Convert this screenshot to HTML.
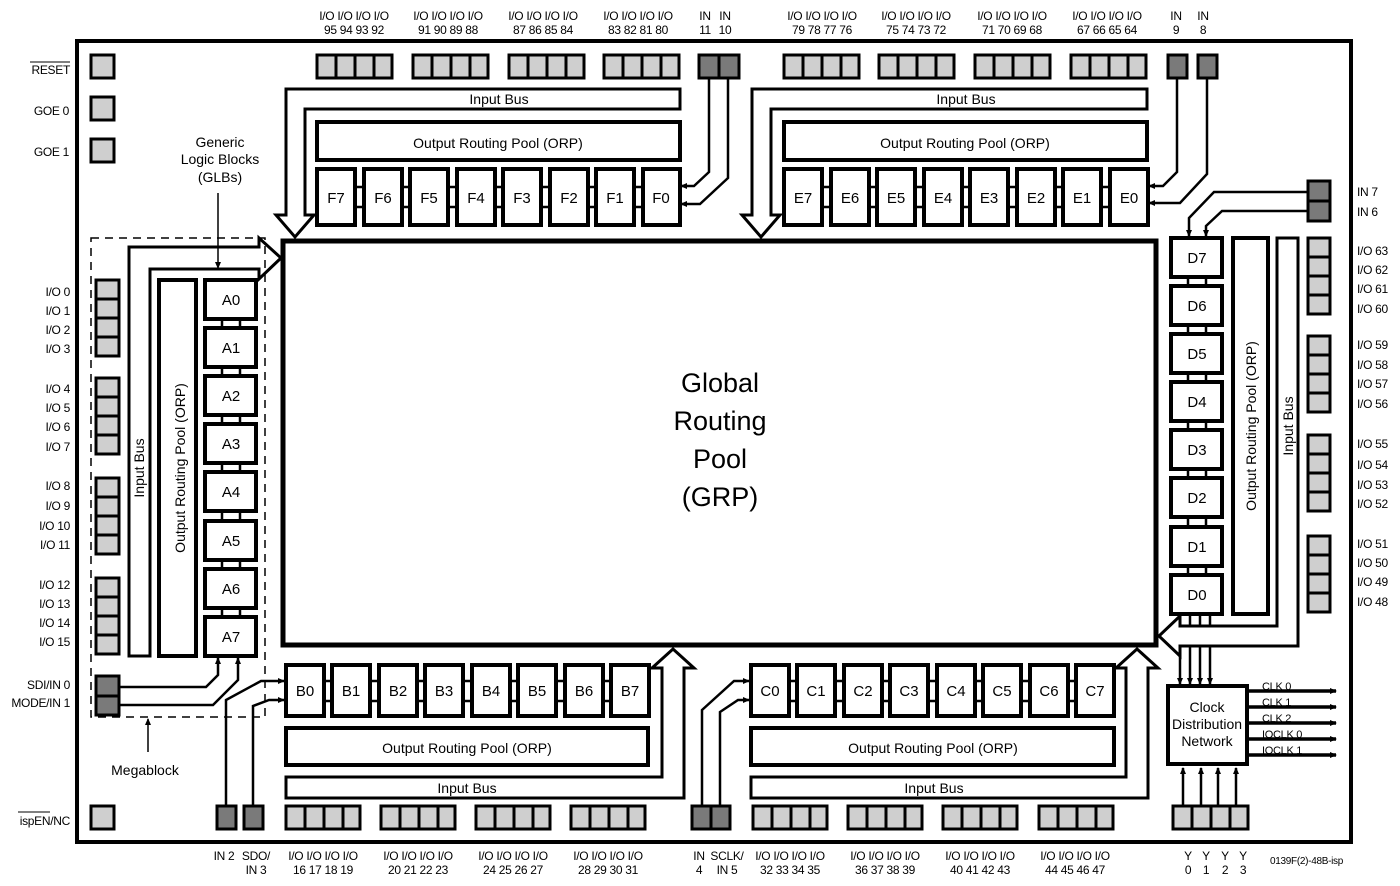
<!DOCTYPE html>
<html><head><meta charset="utf-8"><style>
html,body{margin:0;padding:0;background:#fff}
svg{display:block}
text{font-family:"Liberation Sans",sans-serif;fill:#000}
.s{font-size:12px;letter-spacing:-0.3px}
.m{font-size:14px}
.b{font-size:15px}
</style></head><body>
<svg width="1400" height="886" viewBox="0 0 1400 886" xmlns="http://www.w3.org/2000/svg">
<defs>
<marker id="ar" markerWidth="8" markerHeight="8" refX="6" refY="3" orient="auto" markerUnits="userSpaceOnUse"><path d="M0,0 L7,3 L0,6 z" fill="#000"/></marker>
</defs>
<g fill="none" stroke="#000">
<rect x="77" y="41" width="1274" height="801" stroke-width="4"/>
<rect x="283" y="241" width="873" height="404" stroke-width="5"/>
</g>
<g text-anchor="middle">
<text x="720" y="392" style="font-size:27px">Global</text>
<text x="720" y="430" style="font-size:27px">Routing</text>
<text x="720" y="468" style="font-size:27px">Pool</text>
<text x="720" y="506" style="font-size:27px">(GRP)</text>
</g>

<g fill="#cfcfcf" stroke="#000" stroke-width="3">
<rect x="317" y="55" width="19" height="23"/><rect x="336" y="55" width="19" height="23"/><rect x="355" y="55" width="19" height="23"/><rect x="374" y="55" width="18" height="23"/>
<rect x="413" y="55" width="19" height="23"/><rect x="432" y="55" width="19" height="23"/><rect x="451" y="55" width="19" height="23"/><rect x="470" y="55" width="18" height="23"/>
<rect x="509" y="55" width="19" height="23"/><rect x="528" y="55" width="19" height="23"/><rect x="547" y="55" width="19" height="23"/><rect x="566" y="55" width="18" height="23"/>
<rect x="604" y="55" width="19" height="23"/><rect x="623" y="55" width="19" height="23"/><rect x="642" y="55" width="19" height="23"/><rect x="661" y="55" width="18" height="23"/>
<rect x="784" y="55" width="19" height="23"/><rect x="803" y="55" width="19" height="23"/><rect x="822" y="55" width="19" height="23"/><rect x="841" y="55" width="18" height="23"/>
<rect x="879" y="55" width="19" height="23"/><rect x="898" y="55" width="19" height="23"/><rect x="917" y="55" width="19" height="23"/><rect x="936" y="55" width="18" height="23"/>
<rect x="975" y="55" width="19" height="23"/><rect x="994" y="55" width="19" height="23"/><rect x="1013" y="55" width="19" height="23"/><rect x="1032" y="55" width="18" height="23"/>
<rect x="1071" y="55" width="19" height="23"/><rect x="1090" y="55" width="19" height="23"/><rect x="1109" y="55" width="19" height="23"/><rect x="1128" y="55" width="18" height="23"/>
<rect x="286" y="806" width="19" height="23"/><rect x="305" y="806" width="19" height="23"/><rect x="324" y="806" width="19" height="23"/><rect x="343" y="806" width="17" height="23"/>
<rect x="381" y="806" width="19" height="23"/><rect x="400" y="806" width="19" height="23"/><rect x="419" y="806" width="19" height="23"/><rect x="438" y="806" width="17" height="23"/>
<rect x="476" y="806" width="19" height="23"/><rect x="495" y="806" width="19" height="23"/><rect x="514" y="806" width="19" height="23"/><rect x="533" y="806" width="17" height="23"/>
<rect x="571" y="806" width="19" height="23"/><rect x="590" y="806" width="19" height="23"/><rect x="609" y="806" width="19" height="23"/><rect x="628" y="806" width="17" height="23"/>
<rect x="753" y="806" width="19" height="23"/><rect x="772" y="806" width="19" height="23"/><rect x="791" y="806" width="19" height="23"/><rect x="810" y="806" width="17" height="23"/>
<rect x="848" y="806" width="19" height="23"/><rect x="867" y="806" width="19" height="23"/><rect x="886" y="806" width="19" height="23"/><rect x="905" y="806" width="17" height="23"/>
<rect x="943" y="806" width="19" height="23"/><rect x="962" y="806" width="19" height="23"/><rect x="981" y="806" width="19" height="23"/><rect x="1000" y="806" width="17" height="23"/>
<rect x="1039" y="806" width="19" height="23"/><rect x="1058" y="806" width="19" height="23"/><rect x="1077" y="806" width="19" height="23"/><rect x="1096" y="806" width="17" height="23"/>
<rect x="1173" y="806" width="19" height="23"/><rect x="1192" y="806" width="19" height="23"/><rect x="1211" y="806" width="19" height="23"/><rect x="1230" y="806" width="18" height="23"/>
<rect x="96" y="280" width="23" height="19"/><rect x="96" y="299" width="23" height="19"/><rect x="96" y="318" width="23" height="19"/><rect x="96" y="337" width="23" height="19"/>
<rect x="96" y="378" width="23" height="19"/><rect x="96" y="397" width="23" height="19"/><rect x="96" y="416" width="23" height="19"/><rect x="96" y="435" width="23" height="19"/>
<rect x="96" y="478" width="23" height="19"/><rect x="96" y="497" width="23" height="19"/><rect x="96" y="516" width="23" height="19"/><rect x="96" y="535" width="23" height="19"/>
<rect x="96" y="578" width="23" height="19"/><rect x="96" y="597" width="23" height="19"/><rect x="96" y="616" width="23" height="19"/><rect x="96" y="635" width="23" height="19"/>
<rect x="1308" y="238" width="22" height="19"/><rect x="1308" y="257" width="22" height="19"/><rect x="1308" y="276" width="22" height="19"/><rect x="1308" y="295" width="22" height="19"/>
<rect x="1308" y="336" width="22" height="19"/><rect x="1308" y="355" width="22" height="19"/><rect x="1308" y="374" width="22" height="19"/><rect x="1308" y="393" width="22" height="19"/>
<rect x="1308" y="435" width="22" height="19"/><rect x="1308" y="454" width="22" height="19"/><rect x="1308" y="473" width="22" height="19"/><rect x="1308" y="492" width="22" height="19"/>
<rect x="1308" y="536" width="22" height="19"/><rect x="1308" y="555" width="22" height="19"/><rect x="1308" y="574" width="22" height="19"/><rect x="1308" y="593" width="22" height="19"/>
<rect x="91" y="55" width="23" height="23"/><rect x="91" y="97" width="23" height="23"/><rect x="91" y="139" width="23" height="23"/>
<rect x="91" y="806" width="23" height="23"/>
</g>
<g fill="#7a7a7a" stroke="#000" stroke-width="3">
<rect x="699" y="55" width="20" height="23"/><rect x="719" y="55" width="20" height="23"/>
<rect x="1168" y="55" width="19" height="23"/><rect x="1198" y="55" width="19" height="23"/>
<rect x="1308" y="181" width="22" height="20"/><rect x="1308" y="201" width="22" height="20"/>
<rect x="96" y="676" width="23" height="20"/><rect x="96" y="696" width="23" height="19"/>
<rect x="217" y="806" width="19" height="23"/><rect x="244" y="806" width="19" height="23"/>
<rect x="692" y="806" width="19" height="23"/><rect x="711" y="806" width="19" height="23"/>
</g>

<g fill="#fff" stroke="#000" stroke-width="4">
<rect x="317" y="122" width="363" height="38"/>
<rect x="784" y="122" width="363" height="38"/>
<rect x="286" y="728" width="362" height="37"/>
<rect x="751" y="728" width="363" height="37"/>
<rect x="159" y="280" width="37" height="376"/>
<rect x="1233" y="238" width="35" height="376"/>
</g>
<g fill="none" stroke="#000" stroke-width="3">
<path d="M680,89 L286,89 L286,215 L276,215 L295,237 L314,215 L305,215 L305,109 L680,109 Z" fill="#fff"/>
<path d="M1147,89 L752,89 L752,215 L742,215 L761,237 L780,215 L771,215 L771,109 L1147,109 Z" fill="#fff"/>
<path d="M286,798 L684,798 L684,668 L694,668 L673,649 L652,668 L662,668 L662,777 L286,777 Z" fill="#fff"/>
<path d="M751,798 L1148,798 L1148,668 L1158,668 L1137,649 L1116,668 L1126,668 L1126,777 L751,777 Z" fill="#fff"/>
<path d="M129,656 L129,247 L259,247 L259,238 L281,258 L259,279 L259,269 L150,269 L150,656 Z" fill="#fff"/>
<path d="M1277,238 L1277,626 L1180,626 L1180,616 L1159,636 L1180,656 L1180,646 L1298,646 L1298,238 Z" fill="#fff"/>
<rect x="1277" y="238" width="21" height="388" fill="#fff" stroke="none"/>
<path d="M1277,238 L1277,626 M1298,238 L1298,646 M1277,238 L1298,238"/>
</g>
<rect x="91" y="238" width="174" height="479" fill="none" stroke="#000" stroke-width="1.5" stroke-dasharray="8,6"/>

<g fill="#fff" stroke="#000" stroke-width="4">
<rect x="317" y="169" width="38" height="56"/><rect x="364" y="169" width="38" height="56"/><rect x="410" y="169" width="38" height="56"/><rect x="457" y="169" width="38" height="56"/><rect x="503" y="169" width="38" height="56"/><rect x="550" y="169" width="38" height="56"/><rect x="596" y="169" width="38" height="56"/><rect x="643" y="169" width="37" height="56"/>
<rect x="784" y="169" width="38" height="56"/><rect x="831" y="169" width="38" height="56"/><rect x="877" y="169" width="38" height="56"/><rect x="924" y="169" width="38" height="56"/><rect x="970" y="169" width="38" height="56"/><rect x="1017" y="169" width="38" height="56"/><rect x="1063" y="169" width="38" height="56"/><rect x="1110" y="169" width="38" height="56"/>
<rect x="286" y="665" width="38" height="51"/><rect x="332" y="665" width="38" height="51"/><rect x="379" y="665" width="38" height="51"/><rect x="425" y="665" width="38" height="51"/><rect x="472" y="665" width="38" height="51"/><rect x="518" y="665" width="38" height="51"/><rect x="565" y="665" width="38" height="51"/><rect x="611" y="665" width="38" height="51"/>
<rect x="751" y="665" width="38" height="51"/><rect x="797" y="665" width="38" height="51"/><rect x="844" y="665" width="38" height="51"/><rect x="890" y="665" width="38" height="51"/><rect x="937" y="665" width="38" height="51"/><rect x="983" y="665" width="38" height="51"/><rect x="1030" y="665" width="38" height="51"/><rect x="1076" y="665" width="38" height="51"/>
<rect x="205" y="280" width="51" height="39"/><rect x="205" y="328" width="51" height="39"/><rect x="205" y="376" width="51" height="39"/><rect x="205" y="424" width="51" height="39"/><rect x="205" y="472" width="51" height="39"/><rect x="205" y="521" width="51" height="39"/><rect x="205" y="569" width="51" height="39"/><rect x="205" y="617" width="51" height="39"/>
<rect x="1171" y="238" width="51" height="39"/><rect x="1171" y="286" width="51" height="39"/><rect x="1171" y="334" width="51" height="39"/><rect x="1171" y="382" width="51" height="39"/><rect x="1171" y="430" width="51" height="39"/><rect x="1171" y="478" width="51" height="39"/><rect x="1171" y="527" width="51" height="39"/><rect x="1171" y="575" width="51" height="39"/>
<rect x="1168" y="686" width="79" height="78"/>
</g>
<g stroke="#000" stroke-width="2.5" fill="none">
<path d="M355,187h9M355,207h9M402,187h8M402,207h8M448,187h9M448,207h9M495,187h8M495,207h8M541,187h9M541,207h9M588,187h8M588,207h8M634,187h9M634,207h9"/>
<path d="M822,187h9M822,207h9M869,187h8M869,207h8M915,187h9M915,207h9M962,187h8M962,207h8M1008,187h9M1008,207h9M1055,187h8M1055,207h8M1101,187h9M1101,207h9"/>
<path d="M324,681h8M324,701h8M370,681h9M370,701h9M417,681h8M417,701h8M463,681h9M463,701h9M510,681h8M510,701h8M556,681h9M556,701h9M603,681h8M603,701h8"/>
<path d="M789,681h8M789,701h8M835,681h9M835,701h9M882,681h8M882,701h8M928,681h9M928,701h9M975,681h8M975,701h8M1021,681h9M1021,701h9M1068,681h8M1068,701h8"/>
<path d="M222,319v9M240,319v9M222,367v9M240,367v9M222,415v9M240,415v9M222,463v9M240,463v9M222,511v10M240,511v10M222,560v9M240,560v9M222,608v9M240,608v9"/>
<path d="M1188,277v9M1206,277v9M1188,325v9M1206,325v9M1188,373v9M1206,373v9M1188,421v9M1206,421v9M1188,469v9M1206,469v9M1188,517v10M1206,517v10M1188,566v9M1206,566v9"/>
<path d="M1180,614v12M1190,614v12M1200,614v12M1210,614v12"/>
</g>
<g stroke="#000" stroke-width="2.5" fill="none" marker-end="url(#ar)">
<path d="M709,78 V172 L694,186 H681"/>
<path d="M728,78 V178 L700,204 H681"/>
<path d="M1177,78 V172 L1163,186 H1149"/>
<path d="M1207,78 V174 L1180,203 H1149"/>
<path d="M1308,192 H1214 L1189,218 V236"/>
<path d="M1308,211 H1222 L1206,226 V236"/>
<path d="M119,687 H206 L218,675 V658"/>
<path d="M119,705 H213 L238,680 V658"/>
<path d="M226,806 V700 L261,681 H284"/>
<path d="M253,806 V706 L269,700 H284"/>
<path d="M702,806 V710 L734,681 H749"/>
<path d="M720,806 V712 L738,700 H749"/>
<path d="M1180,646 V684"/><path d="M1190,646 V684"/><path d="M1200,646 V684"/><path d="M1210,646 V684"/>
<path d="M1183,806 V768"/><path d="M1201,806 V768"/><path d="M1218,806 V768"/><path d="M1236,806 V768"/>
<path d="M218,193 V268" stroke-width="1.5"/>
<path d="M148,752 V719" stroke-width="1.5"/>
</g>
<g stroke="#000" stroke-width="3.5" fill="none" marker-end="url(#ar)">
<path d="M1247,691 H1336"/><path d="M1247,707 H1336"/><path d="M1247,723 H1336"/><path d="M1247,739 H1336"/><path d="M1247,755 H1336"/>
</g>

<g class="b" text-anchor="middle">
<text x="336" y="203">F7</text><text x="383" y="203">F6</text><text x="429" y="203">F5</text><text x="476" y="203">F4</text><text x="522" y="203">F3</text><text x="569" y="203">F2</text><text x="615" y="203">F1</text><text x="661" y="203">F0</text>
<text x="803" y="203">E7</text><text x="850" y="203">E6</text><text x="896" y="203">E5</text><text x="943" y="203">E4</text><text x="989" y="203">E3</text><text x="1036" y="203">E2</text><text x="1082" y="203">E1</text><text x="1129" y="203">E0</text>
<text x="305" y="696">B0</text><text x="351" y="696">B1</text><text x="398" y="696">B2</text><text x="444" y="696">B3</text><text x="491" y="696">B4</text><text x="537" y="696">B5</text><text x="584" y="696">B6</text><text x="630" y="696">B7</text>
<text x="770" y="696">C0</text><text x="816" y="696">C1</text><text x="863" y="696">C2</text><text x="909" y="696">C3</text><text x="956" y="696">C4</text><text x="1002" y="696">C5</text><text x="1049" y="696">C6</text><text x="1095" y="696">C7</text>
<text x="231" y="305">A0</text><text x="231" y="353">A1</text><text x="231" y="401">A2</text><text x="231" y="449">A3</text><text x="231" y="497">A4</text><text x="231" y="546">A5</text><text x="231" y="594">A6</text><text x="231" y="642">A7</text>
<text x="1197" y="263">D7</text><text x="1197" y="311">D6</text><text x="1197" y="359">D5</text><text x="1197" y="407">D4</text><text x="1197" y="455">D3</text><text x="1197" y="503">D2</text><text x="1197" y="552">D1</text><text x="1197" y="600">D0</text>
</g>
<g class="m" text-anchor="middle">
<text x="498" y="148">Output Routing Pool (ORP)</text>
<text x="965" y="148">Output Routing Pool (ORP)</text>
<text x="467" y="753">Output Routing Pool (ORP)</text>
<text x="933" y="753">Output Routing Pool (ORP)</text>
<text x="499" y="104">Input Bus</text>
<text x="966" y="104">Input Bus</text>
<text x="467" y="793">Input Bus</text>
<text x="934" y="793">Input Bus</text>
<text transform="translate(185,468) rotate(-90)">Output Routing Pool (ORP)</text>
<text transform="translate(144,468) rotate(-90)">Input Bus</text>
<text transform="translate(1256,426) rotate(-90)">Output Routing Pool (ORP)</text>
<text transform="translate(1293,426) rotate(-90)">Input Bus</text>
<text x="220" y="147">Generic</text>
<text x="220" y="164">Logic Blocks</text>
<text x="220" y="182">(GLBs)</text>
<text x="145" y="775">Megablock</text>
<text x="1207" y="712">Clock</text>
<text x="1207" y="729">Distribution</text>
<text x="1207" y="746">Network</text>
</g>
<g class="s" style="font-size:11px">
<text x="1262" y="690">CLK 0</text><text x="1262" y="706">CLK 1</text><text x="1262" y="722">CLK 2</text><text x="1262" y="738">IOCLK 0</text><text x="1262" y="754">IOCLK 1</text>
</g>

<g class="s" text-anchor="end">
<text x="70" y="74">RESET</text>
<text x="69" y="115">GOE 0</text>
<text x="69" y="156">GOE 1</text>
<text x="70" y="296">I/O 0</text><text x="70" y="315">I/O 1</text><text x="70" y="334">I/O 2</text><text x="70" y="353">I/O 3</text>
<text x="70" y="393">I/O 4</text><text x="70" y="412">I/O 5</text><text x="70" y="431">I/O 6</text><text x="70" y="451">I/O 7</text>
<text x="70" y="490">I/O 8</text><text x="70" y="510">I/O 9</text><text x="70" y="530">I/O 10</text><text x="70" y="549">I/O 11</text>
<text x="70" y="589">I/O 12</text><text x="70" y="608">I/O 13</text><text x="70" y="627">I/O 14</text><text x="70" y="646">I/O 15</text>
<text x="70" y="689">SDI/IN 0</text><text x="70" y="707">MODE/IN 1</text>
<text x="70" y="825">ispEN/NC</text>
</g>
<path d="M30,62 H70 M18,812 H50" stroke="#000" stroke-width="1"/>
<g class="s">
<text x="1357" y="196">IN 7</text><text x="1357" y="216">IN 6</text>
<text x="1357" y="255">I/O 63</text><text x="1357" y="274">I/O 62</text><text x="1357" y="293">I/O 61</text><text x="1357" y="313">I/O 60</text>
<text x="1357" y="349">I/O 59</text><text x="1357" y="369">I/O 58</text><text x="1357" y="388">I/O 57</text><text x="1357" y="408">I/O 56</text>
<text x="1357" y="448">I/O 55</text><text x="1357" y="469">I/O 54</text><text x="1357" y="489">I/O 53</text><text x="1357" y="508">I/O 52</text>
<text x="1357" y="548">I/O 51</text><text x="1357" y="567">I/O 50</text><text x="1357" y="586">I/O 49</text><text x="1357" y="606">I/O 48</text>
<text x="1270" y="864" style="font-size:10px">0139F(2)-48B-isp</text>
</g>
<g class="s" text-anchor="middle">
<text x="354" y="20">I/O I/O I/O I/O</text><text x="354" y="34">95 94 93 92</text>
<text x="448" y="20">I/O I/O I/O I/O</text><text x="448" y="34">91 90 89 88</text>
<text x="543" y="20">I/O I/O I/O I/O</text><text x="543" y="34">87 86 85 84</text>
<text x="638" y="20">I/O I/O I/O I/O</text><text x="638" y="34">83 82 81 80</text>
<text x="705" y="20">IN</text><text x="705" y="34">11</text><text x="725" y="20">IN</text><text x="725" y="34">10</text>
<text x="822" y="20">I/O I/O I/O I/O</text><text x="822" y="34">79 78 77 76</text>
<text x="916" y="20">I/O I/O I/O I/O</text><text x="916" y="34">75 74 73 72</text>
<text x="1012" y="20">I/O I/O I/O I/O</text><text x="1012" y="34">71 70 69 68</text>
<text x="1107" y="20">I/O I/O I/O I/O</text><text x="1107" y="34">67 66 65 64</text>
<text x="1176" y="20">IN</text><text x="1176" y="34">9</text><text x="1203" y="20">IN</text><text x="1203" y="34">8</text>
</g>
<g class="s" text-anchor="middle">
<text x="224" y="860">IN 2</text>
<text x="256" y="860">SDO/</text><text x="256" y="874">IN 3</text>
<text x="323" y="860">I/O I/O I/O I/O</text><text x="323" y="874">16 17 18 19</text>
<text x="418" y="860">I/O I/O I/O I/O</text><text x="418" y="874">20 21 22 23</text>
<text x="513" y="860">I/O I/O I/O I/O</text><text x="513" y="874">24 25 26 27</text>
<text x="608" y="860">I/O I/O I/O I/O</text><text x="608" y="874">28 29 30 31</text>
<text x="699" y="860">IN</text><text x="699" y="874">4</text>
<text x="727" y="860">SCLK/</text><text x="727" y="874">IN 5</text>
<text x="790" y="860">I/O I/O I/O I/O</text><text x="790" y="874">32 33 34 35</text>
<text x="885" y="860">I/O I/O I/O I/O</text><text x="885" y="874">36 37 38 39</text>
<text x="980" y="860">I/O I/O I/O I/O</text><text x="980" y="874">40 41 42 43</text>
<text x="1075" y="860">I/O I/O I/O I/O</text><text x="1075" y="874">44 45 46 47</text>
<text x="1188" y="860">Y</text><text x="1188" y="874">0</text>
<text x="1206" y="860">Y</text><text x="1206" y="874">1</text>
<text x="1225" y="860">Y</text><text x="1225" y="874">2</text>
<text x="1243" y="860">Y</text><text x="1243" y="874">3</text>
</g>
</svg>
</body></html>
